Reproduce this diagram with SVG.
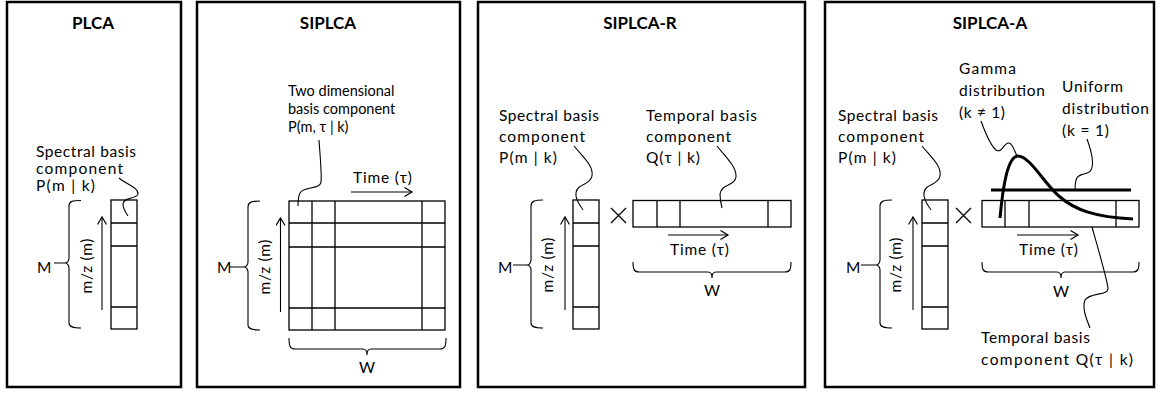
<svg xmlns="http://www.w3.org/2000/svg" width="1158" height="394" viewBox="0 0 1158 394">
<defs>
<style>
.frame{fill:#fff;stroke:#000;stroke-width:2.5}
.cell{fill:#fff;stroke:#000;stroke-width:1.3}
.ln{fill:none;stroke:#000;stroke-width:1.3}
.thin{fill:none;stroke:#000;stroke-width:1.1}
.thick{fill:none;stroke:#000;stroke-width:3}
.t{font-family:Lato,"Liberation Sans","DejaVu Sans",sans-serif;font-size:15.5px;fill:#000}
.s{font-size:14.5px}
.h{font-family:Lato,"Liberation Sans","DejaVu Sans",sans-serif;font-size:17px;font-weight:bold;fill:#000}
</style>
<marker id="ah" markerUnits="userSpaceOnUse" markerWidth="12" markerHeight="12" refX="8" refY="5" orient="auto">
<path d="M0.5,0.5 L8,5 L0.5,9.5" fill="none" stroke="#000" stroke-width="1.2"/>
</marker>
</defs>
<rect width="1158" height="394" fill="#fff"/>

<g id="panel-plca">
<rect class="frame" x="7" y="2" width="174" height="385"/>
<text class="h" x="93" y="29" text-anchor="middle">PLCA</text>
<text class="t" x="36" y="157" textLength="100" lengthAdjust="spacing">Spectral basis</text>
<text class="t" x="36" y="174" textLength="87" lengthAdjust="spacing">component</text>
<text class="t" x="36" y="191" textLength="59" lengthAdjust="spacing">P(m | k)</text>
<rect class="cell" x="111" y="200" width="26" height="129"/>
<path class="ln" d="M111,223H137M111,246H137M111,307H137"/>
<line class="thin" x1="102" y1="310" x2="102" y2="217" marker-end="url(#ah)"/>
<text class="t" transform="translate(92,266) rotate(-90)" text-anchor="middle" textLength="55" lengthAdjust="spacing">m/z (m)</text>
<path class="thin" d="M81,200.5C73,200.5 69,201 69,206L69,258C69,261 67,263 65,263C67,263 69,265 69,268L69,323C69,327 73,328 81,328M54,263H65"/>
<text class="t" x="37" y="273">M</text>
</g>

<g id="panel-siplca">
<rect class="frame" x="197" y="2" width="263" height="385"/>
<text class="h" x="328" y="29" text-anchor="middle">SIPLCA</text>
<text class="t s" x="288" y="96">Two dimensional</text>
<text class="t s" x="288" y="114">basis component</text>
<text class="t s" x="288" y="132">P(m, τ | k)</text>
<text class="t" x="353" y="183" textLength="59" lengthAdjust="spacing">Time (τ)</text>
<line class="thin" x1="351" y1="192" x2="412" y2="192" marker-end="url(#ah)"/>
<rect class="cell" x="289" y="201" width="156" height="129"/>
<path class="ln" d="M312,201V330M335,201V330M422,201V330M289,223H445M289,247H445M289,308H445"/>
<line class="thin" x1="280.5" y1="312" x2="280.5" y2="218" marker-end="url(#ah)"/>
<text class="t" transform="translate(270,267) rotate(-90)" text-anchor="middle" textLength="55" lengthAdjust="spacing">m/z (m)</text>
<path class="thin" d="M260,201C252,201 248,202 248,207L248,262C248,265 246,267 244,267C246,267 248,269 248,272L248,325C248,329 252,330 260,330M230,267H244"/>
<text class="t" x="217" y="273">M</text>
<path class="thin" d="M289,338C289,346 290,349 295,349L363,349C366,349 367,351 367,355C367,351 368,349 371,349L440,349C445,349 446,346 446,338"/>
<text class="t" x="359" y="373">W</text>
</g>

<g id="panel-siplca-r">
<rect class="frame" x="478" y="2" width="327" height="385"/>
<text class="h" x="640" y="29" text-anchor="middle">SIPLCA-R</text>
<text class="t" x="499" y="121" textLength="100" lengthAdjust="spacing">Spectral basis</text>
<text class="t" x="499" y="142" textLength="86" lengthAdjust="spacing">component</text>
<text class="t" x="499" y="163" textLength="58" lengthAdjust="spacing">P(m | k)</text>
<text class="t" x="646" y="121" textLength="111" lengthAdjust="spacing">Temporal basis</text>
<text class="t" x="646" y="142" textLength="85" lengthAdjust="spacing">component</text>
<text class="t" x="646" y="163" textLength="54" lengthAdjust="spacing">Q(τ | k)</text>
<rect class="cell" x="573" y="200" width="26" height="129"/>
<path class="ln" d="M573,223H599M573,246H599M573,307H599"/>
<line class="thin" x1="565" y1="310" x2="565" y2="217" marker-end="url(#ah)"/>
<text class="t" transform="translate(553,265) rotate(-90)" text-anchor="middle" textLength="55" lengthAdjust="spacing">m/z (m)</text>
<path class="thin" d="M543,200C535,200 531,201 531,206L531,260C531,263 529,265 527,265C529,265 531,267 531,270L531,323C531,327 535,328 543,328M513,265H527"/>
<text class="t" x="498" y="273">M</text>
<path class="ln" d="M611,208L626,223M611,223L626,208"/>
<rect class="cell" x="633" y="200.5" width="158" height="26.5"/>
<path class="ln" d="M657,200.5V227M680,200.5V227M768,200.5V227"/>
<line class="thin" x1="668" y1="235" x2="728" y2="235" marker-end="url(#ah)"/>
<text class="t" x="670" y="255" textLength="59" lengthAdjust="spacing">Time (τ)</text>
<path class="thin" d="M633,262C633,269 634,272 639,272L708,272C711,272 712,274 712,278C712,274 713,272 716,272L785,272C790,272 791,269 791,262"/>
<text class="t" x="704" y="296">W</text>
</g>

<g id="panel-siplca-a">
<rect class="frame" x="825" y="2" width="329" height="385"/>
<text class="h" x="990" y="29" text-anchor="middle">SIPLCA-A</text>
<text class="t" x="838" y="121" textLength="100" lengthAdjust="spacing">Spectral basis</text>
<text class="t" x="838" y="142" textLength="86" lengthAdjust="spacing">component</text>
<text class="t" x="838" y="163" textLength="58" lengthAdjust="spacing">P(m | k)</text>
<text class="t" x="959" y="74" textLength="57" lengthAdjust="spacing">Gamma</text>
<text class="t" x="959" y="96" textLength="86" lengthAdjust="spacing">distribution</text>
<text class="t" x="959" y="118" textLength="46" lengthAdjust="spacing">(k ≠ 1)</text>
<text class="t" x="1062" y="92" textLength="61" lengthAdjust="spacing">Uniform</text>
<text class="t" x="1062" y="114" textLength="87" lengthAdjust="spacing">distribution</text>
<text class="t" x="1062" y="136" textLength="47" lengthAdjust="spacing">(k = 1)</text>
<rect class="cell" x="922" y="200" width="26" height="129"/>
<path class="ln" d="M922,223H948M922,246H948M922,307H948"/>
<line class="thin" x1="913" y1="310" x2="913" y2="217" marker-end="url(#ah)"/>
<text class="t" transform="translate(901,265) rotate(-90)" text-anchor="middle" textLength="55" lengthAdjust="spacing">m/z (m)</text>
<path class="thin" d="M892,200C884,200 880,201 880,206L880,260C880,263 878,265 876,265C878,265 880,267 880,270L880,323C880,327 884,328 892,328M861,265H876"/>
<text class="t" x="846" y="273">M</text>
<path class="ln" d="M956,208L971,223M956,223L971,208"/>
<rect class="cell" x="982" y="200.5" width="157" height="26.5"/>
<path class="ln" d="M1005,200.5V227M1029,200.5V227M1116,200.5V227"/>
<path class="thick" d="M991,190H1131"/>
<path class="thick" d="M1000,218C1003,185 1008,156 1018,156C1030,156 1045,185 1060,197C1075,210 1095,217 1133,219"/>
<line class="thin" x1="1017" y1="235" x2="1078" y2="235" marker-end="url(#ah)"/>
<text class="t" x="1019" y="255" textLength="59" lengthAdjust="spacing">Time (τ)</text>
<path class="thin" d="M982,262C982,269 983,272 988,272L1057,272C1060,272 1061,274 1061,278C1061,274 1062,272 1065,272L1133,272C1138,272 1139,269 1139,262"/>
<text class="t" x="1053" y="297">W</text>
<text class="t" x="981" y="343" textLength="109" lengthAdjust="spacing">Temporal basis</text>
<text class="t" x="981" y="365" textLength="152" lengthAdjust="spacing">component Q(τ | k)</text>
</g>

<g id="connectors">
<path class="thin" d="M119,178C126,184 139,188 138,194C137,199 123,197 123,204C123,209 126,213 128,216"/>
<path class="thin" d="M319,140C320,155 322,175 321,182C320,190 303,186 300,193C298,197 298,201 298,206"/>
<path class="thin" d="M574,146C582,156 594,166 592,176C590,186 577,183 576,193C575,200 580,205 583,210"/>
<path class="thin" d="M717,146C725,156 737,167 736,177C735,186 721,184 720,194C720,200 721,204 722,208"/>
<path class="thin" d="M922,146C930,156 942,166 940,176C938,186 925,183 924,193C923,200 928,205 931,210"/>
<path class="thin" d="M981,121C985,132 990,145 996,150C1002,154 1004,142 1009,143C1013,144 1014,150 1017,156"/>
<path class="thin" d="M1087,139C1091,150 1095,163 1091,170C1088,176 1078,172 1076,180C1075,184 1075,187 1075,190"/>
<path class="thin" d="M1092,227C1097,245 1106,275 1108,288C1109,296 1090,292 1085,300C1082,308 1086,318 1090,328"/>
</g>
</svg>
